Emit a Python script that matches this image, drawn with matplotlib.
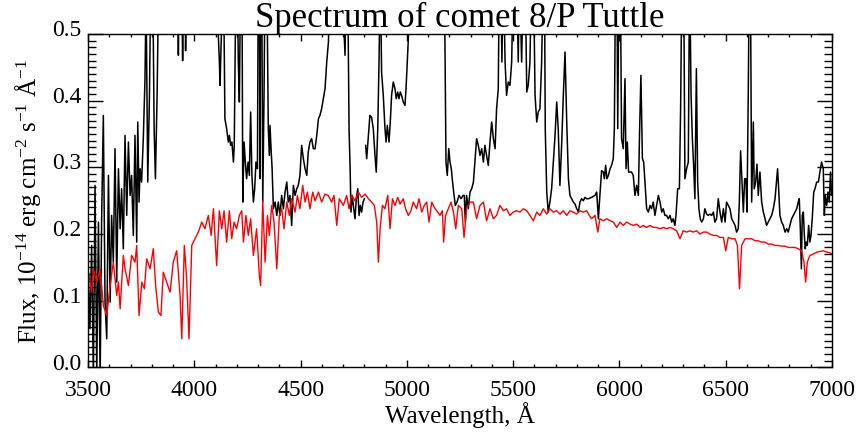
import numpy as np
import matplotlib
matplotlib.use("Agg")
import matplotlib.pyplot as plt
from matplotlib.ticker import MultipleLocator, FormatStrFormatter
from matplotlib.transforms import ScaledTranslation

plt.rcParams['font.family'] = ['Liberation Serif', 'DejaVu Serif']
plt.rcParams['mathtext.fontset'] = 'custom'
plt.rcParams['mathtext.rm'] = 'Liberation Serif'
plt.rcParams['mathtext.default'] = 'regular'

# reference (solar-like) spectrum, red
red_wave = [3502, 3517, 3525, 3541, 3557, 3572, 3588, 3604, 3619, 3635, 3643, 3651, 3666, 3674,
            3690, 3705, 3721, 3729, 3740, 3753, 3765, 3776, 3792, 3807, 3818, 3831, 3843, 3854,
            3870, 3886, 3901, 3917, 3933, 3941, 3953, 3964, 3975, 3988, 4003, 4019, 4035, 4050,
            4066, 4079, 4090, 4105, 4118, 4129, 4140, 4152, 4165, 4176, 4187, 4199, 4212, 4223,
            4231, 4243, 4254, 4265, 4278, 4293, 4306, 4312, 4322, 4333, 4344, 4353, 4364, 4375,
            4388, 4400, 4411, 4422, 4435, 4447, 4458, 4474, 4485, 4497, 4510, 4521, 4532, 4544,
            4557, 4568, 4584, 4599, 4615, 4630, 4646, 4657, 4670, 4682, 4701, 4717, 4728, 4740,
            4756, 4772, 4787, 4803, 4819, 4834, 4847, 4858, 4866, 4874, 4885, 4897, 4910, 4921,
            4932, 4944, 4957, 4968, 4983, 4994, 5007, 5019, 5030, 5046, 5057, 5070, 5082, 5093,
            5104, 5117, 5129, 5140, 5156, 5167, 5173, 5182, 5195, 5208, 5219, 5230, 5242, 5258,
            5269, 5281, 5297, 5313, 5328, 5344, 5360, 5375, 5391, 5407, 5422, 5438, 5454, 5469,
            5485, 5501, 5516, 5532, 5548, 5564, 5579, 5595, 5611, 5626, 5642, 5658, 5673, 5689,
            5705, 5720, 5736, 5752, 5767, 5783, 5799, 5814, 5830, 5846, 5858, 5869, 5885, 5898,
            5908, 5924, 5940, 5956, 5971, 5987, 6003, 6018, 6034, 6050, 6065, 6081, 6097, 6112,
            6128, 6144, 6159, 6175, 6191, 6206, 6222, 6238, 6253, 6269, 6285, 6300, 6316, 6332,
            6347, 6363, 6379, 6395, 6410, 6426, 6442, 6457, 6473, 6489, 6500, 6512, 6528, 6544,
            6555, 6565, 6575, 6591, 6606, 6622, 6638, 6653, 6669, 6685, 6700, 6716, 6732, 6747,
            6763, 6779, 6794, 6810, 6826, 6841, 6857, 6868, 6876, 6884, 6896, 6912, 6928, 6943,
            6959, 6975, 6990, 7003]
red_flux = [0.143, 0.113, 0.148, 0.128, 0.148, 0.093, 0.078, 0.123, 0.158, 0.108, 0.128, 0.088, 0.168, 0.148,
            0.123, 0.168, 0.158, 0.183, 0.078, 0.128, 0.118, 0.163, 0.148, 0.178, 0.123, 0.083, 0.078, 0.143,
            0.128, 0.113, 0.158, 0.175, 0.108, 0.043, 0.183, 0.133, 0.043, 0.183, 0.193, 0.203, 0.218, 0.208,
            0.228, 0.198, 0.238, 0.153, 0.235, 0.208, 0.235, 0.188, 0.235, 0.193, 0.218, 0.208, 0.228, 0.235,
            0.188, 0.228, 0.198, 0.223, 0.168, 0.208, 0.138, 0.123, 0.250, 0.158, 0.228, 0.198, 0.243, 0.218,
            0.148, 0.228, 0.238, 0.208, 0.248, 0.228, 0.253, 0.233, 0.258, 0.238, 0.273, 0.248, 0.263, 0.238,
            0.263, 0.250, 0.263, 0.248, 0.260, 0.258, 0.248, 0.258, 0.213, 0.253, 0.243, 0.258, 0.238, 0.258,
            0.250, 0.263, 0.255, 0.260, 0.253, 0.248, 0.243, 0.218, 0.158, 0.208, 0.243, 0.238, 0.258, 0.208,
            0.253, 0.243, 0.255, 0.245, 0.253, 0.238, 0.228, 0.235, 0.248, 0.238, 0.253, 0.233, 0.243, 0.248,
            0.218, 0.248, 0.240, 0.235, 0.228, 0.235, 0.188, 0.228, 0.238, 0.248, 0.233, 0.208, 0.243, 0.238,
            0.195, 0.238, 0.248, 0.248, 0.223, 0.243, 0.248, 0.220, 0.238, 0.223, 0.228, 0.243, 0.235, 0.238,
            0.228, 0.233, 0.235, 0.233, 0.238, 0.235, 0.228, 0.220, 0.233, 0.228, 0.238, 0.230, 0.238, 0.233,
            0.235, 0.230, 0.235, 0.228, 0.235, 0.233, 0.230, 0.235, 0.233, 0.235, 0.228, 0.223, 0.228, 0.203,
            0.223, 0.220, 0.223, 0.220, 0.218, 0.210, 0.218, 0.213, 0.218, 0.215, 0.213, 0.215, 0.210, 0.213,
            0.210, 0.213, 0.210, 0.210, 0.208, 0.210, 0.208, 0.210, 0.208, 0.205, 0.193, 0.205, 0.203, 0.205,
            0.203, 0.205, 0.200, 0.203, 0.203, 0.200, 0.198, 0.198, 0.195, 0.195, 0.175, 0.195, 0.193, 0.193,
            0.183, 0.118, 0.183, 0.193, 0.193, 0.193, 0.190, 0.190, 0.188, 0.188, 0.185, 0.185, 0.183, 0.183,
            0.182, 0.182, 0.180, 0.180, 0.180, 0.178, 0.175, 0.158, 0.128, 0.158, 0.168, 0.170, 0.173, 0.174,
            0.175, 0.173, 0.172, 0.170]

# comet spectrum, black (values above 0.5 run off the top of the plot)
comet_wave = [3502, 3509, 3517, 3525, 3533, 3541, 3549, 3557, 3564, 3572, 3580, 3588, 3596, 3604,
              3611, 3619, 3627, 3635, 3643, 3651, 3658, 3666, 3674, 3682, 3690, 3698, 3705, 3713,
              3721, 3729, 3734, 3740, 3745, 3752, 3760, 3768, 3773, 3781, 3789, 3796, 3804, 3811,
              3817, 3825, 3833, 3860, 3900, 3920, 3925, 3930, 3940, 3945, 3950, 3955, 3959, 3965,
              4000, 4050, 4100, 4110, 4118, 4121, 4129, 4137, 4144, 4152, 4160, 4165, 4171, 4177,
              4184, 4188, 4196, 4202, 4207, 4212, 4218, 4224, 4228, 4234, 4240, 4246, 4253, 4259,
              4265, 4271, 4278, 4284, 4290, 4297, 4301, 4306, 4309, 4312, 4317, 4322, 4328, 4333,
              4341, 4348, 4353, 4356, 4361, 4366, 4372, 4380, 4388, 4395, 4403, 4411, 4419, 4427,
              4435, 4442, 4450, 4458, 4466, 4474, 4482, 4489, 4497, 4505, 4513, 4521, 4529, 4536,
              4544, 4552, 4560, 4568, 4576, 4584, 4591, 4599, 4607, 4615, 4623, 4631, 4640, 4680,
              4709, 4715, 4721, 4728, 4733, 4737, 4743, 4750, 4756, 4762, 4769, 4775, 4781, 4787,
              4794, 4800, 4803, 4806, 4811, 4819, 4826, 4834, 4842, 4850, 4856, 4863, 4869, 4875,
              4881, 4889, 4897, 4902, 4908, 4916, 4922, 4928, 4936, 4944, 4950, 4957, 4963, 4969,
              4975, 4983, 4991, 4996, 5002, 5007, 5015, 5100, 5170, 5176, 5184, 5190, 5197, 5203,
              5209, 5215, 5222, 5228, 5236, 5245, 5255, 5264, 5270, 5275, 5281, 5289, 5297, 5305,
              5313, 5320, 5328, 5336, 5344, 5352, 5360, 5367, 5375, 5383, 5391, 5399, 5407, 5415,
              5422, 5430, 5435, 5441, 5447, 5454, 5462, 5469, 5477, 5485, 5493, 5501, 5516, 5524,
              5529, 5540, 5548, 5556, 5564, 5571, 5579, 5587, 5595, 5603, 5611, 5618, 5626, 5634,
              5642, 5647, 5651, 5658, 5665, 5673, 5681, 5689, 5697, 5705, 5712, 5720, 5728, 5736,
              5744, 5752, 5760, 5767, 5775, 5783, 5791, 5799, 5807, 5814, 5822, 5830, 5838, 5846,
              5854, 5869, 5885, 5893, 5901, 5908, 5916, 5924, 5929, 5935, 5941, 5948, 5956, 5963,
              5971, 5976, 5982, 5988, 5992, 5998, 6004, 6010, 6018, 6026, 6031, 6037, 6043, 6050,
              6057, 6065, 6073, 6081, 6089, 6095, 6101, 6108, 6114, 6120, 6128, 6136, 6144, 6151,
              6159, 6167, 6175, 6183, 6191, 6199, 6206, 6214, 6222, 6230, 6238, 6246, 6253, 6261,
              6266, 6274, 6282, 6288, 6294, 6302, 6308, 6316, 6324, 6330, 6337, 6343, 6349, 6355,
              6362, 6368, 6374, 6380, 6387, 6395, 6402, 6410, 6418, 6426, 6434, 6442, 6449, 6457,
              6465, 6473, 6481, 6489, 6497, 6504, 6512, 6520, 6528, 6536, 6544, 6551, 6559, 6564,
              6570, 6576, 6583, 6589, 6595, 6600, 6606, 6611, 6616, 6622, 6630, 6634, 6641, 6647,
              6653, 6661, 6669, 6677, 6685, 6692, 6700, 6708, 6716, 6724, 6732, 6740, 6744, 6749,
              6755, 6763, 6771, 6779, 6787, 6794, 6802, 6810, 6818, 6826, 6834, 6841, 6846, 6851,
              6856, 6860, 6865, 6870, 6874, 6879, 6884, 6890, 6896, 6901, 6907, 6914, 6920, 6928,
              6936, 6943, 6951, 6959, 6964, 6968, 6975, 6981, 6987, 6993, 6998, 7003]
comet_flux = [0.133, 0.058, 0.183, -0.013, 0.273, -0.010, 0.218, -0.018, 0.223, 0.378, 0.098, 0.043, 0.288, 0.098,
              0.228, 0.158, 0.328, 0.128, 0.298, 0.208, 0.268, 0.178, 0.348, 0.228, 0.338, 0.258, 0.288, 0.198,
              0.348, 0.188, 0.368, 0.248, 0.298, 0.278, 0.343, 0.433, 0.56, 0.278, 0.408, 0.6, 0.6, 0.358,
              0.283, 0.408, 0.6, 0.7, 0.8, 0.6, 0.468, 0.6, 0.6, 0.46, 0.6, 0.6, 0.475, 0.6,
              0.7, 0.7, 0.6, 0.52, 0.458, 0.423, 0.52, 0.6, 0.373, 0.358, 0.338, 0.348, 0.333, 0.338,
              0.308, 0.333, 0.6, 0.6, 0.458, 0.398, 0.6, 0.6, 0.248, 0.338, 0.308, 0.283, 0.308, 0.288,
              0.383, 0.288, 0.248, 0.268, 0.308, 0.298, 0.6, 0.6, 0.283, 0.6, 0.6, 0.248, 0.408, 0.6,
              0.6, 0.358, 0.318, 0.363, 0.328, 0.298, 0.238, 0.248, 0.228, 0.248, 0.228, 0.258, 0.238, 0.263,
              0.278, 0.248, 0.258, 0.213, 0.273, 0.258, 0.268, 0.273, 0.288, 0.333, 0.313, 0.298, 0.288, 0.323,
              0.338, 0.343, 0.328, 0.328, 0.348, 0.373, 0.378, 0.388, 0.403, 0.418, 0.458, 0.488, 0.6, 0.7,
              0.468, 0.6, 0.6, 0.358, 0.298, 0.233, 0.258, 0.238, 0.223, 0.253, 0.268, 0.228, 0.243, 0.233,
              0.248, 0.253, np.nan, 0.333, 0.313, 0.348, 0.378, 0.375, 0.358, 0.318, 0.293, 0.358, 0.458, 0.6,
              0.443, 0.408, 0.358, 0.338, 0.363, 0.338, 0.368, 0.408, 0.428, 0.418, 0.403, 0.413, 0.403, 0.413,
              0.408, 0.398, 0.393, 0.418, 0.458, 0.493, 0.6, 0.8, 0.6, 0.6, 0.308, 0.288, 0.328, 0.308,
              0.298, 0.278, 0.258, 0.243, 0.248, 0.258, 0.253, 0.258, 0.258, 0.218, 0.258, 0.238, 0.263, 0.268,
              0.278, 0.308, 0.343, 0.333, 0.318, 0.328, 0.308, 0.333, 0.318, 0.303, 0.338, 0.368, 0.343, 0.328,
              0.388, 0.418, 0.6, 0.6, 0.458, 0.6, 0.458, 0.408, 0.428, 0.423, 0.458, 0.6, 0.6, 0.458,
              0.6, 0.458, 0.6, 0.6, 0.413, 0.423, 0.458, 0.6, 0.6, 0.408, 0.368, 0.383, 0.388, 0.458,
              0.6, 0.6, 0.358, 0.263, 0.233, 0.248, 0.268, 0.308, 0.348, 0.398, 0.358, 0.273, 0.333, 0.408,
              0.473, 0.368, 0.283, 0.258, 0.253, 0.248, 0.245, 0.238, 0.233, 0.248, 0.253, 0.250, 0.255, 0.253,
              0.253, 0.255, 0.258, 0.263, 0.223, 0.258, 0.295, 0.293, 0.283, 0.303, 0.283, 0.288, 0.298, 0.303,
              0.313, 0.358, 0.6, 0.6, 0.358, 0.6, 0.6, 0.343, 0.328, 0.433, 0.298, 0.338, 0.293, 0.293,
              0.293, 0.288, 0.258, 0.273, 0.258, 0.358, 0.438, 0.313, 0.308, 0.278, 0.238, 0.233, 0.243, 0.238,
              0.248, 0.228, 0.243, 0.258, 0.248, 0.233, 0.238, 0.228, 0.228, 0.223, 0.228, 0.218, 0.223, 0.213,
              0.228, 0.268, 0.268, 0.393, 0.6, 0.6, 0.283, 0.298, 0.308, 0.6, 0.408, 0.343, 0.303, 0.253,
              0.448, 0.278, 0.238, 0.223, 0.218, 0.223, 0.238, 0.230, 0.228, 0.230, 0.228, 0.233, 0.218, 0.223,
              0.253, 0.233, 0.218, 0.238, 0.218, 0.248, 0.243, 0.238, 0.223, 0.218, 0.213, 0.203, 0.208, 0.248,
              0.325, 0.283, 0.233, 0.283, 0.283, 0.233, 0.408, 0.6, 0.6, 0.248, 0.368, 0.268, 0.278, 0.305,
              0.258, 0.293, 0.248, 0.233, 0.223, 0.213, 0.218, 0.223, 0.228, 0.238, 0.253, 0.283, 0.298, 0.268,
              0.228, 0.218, 0.213, 0.203, 0.208, 0.203, 0.213, 0.223, 0.228, 0.233, 0.238, 0.248, 0.253, 0.208,
              0.148, 0.228, 0.233, 0.198, 0.178, 0.188, 0.183, 0.213, 0.188, 0.198, 0.223, 0.263, 0.268, 0.278,
              0.278, 0.293, 0.308, 0.298, 0.228, 0.258, 0.243, 0.263, 0.248, 0.293, 0.258, 0.268]

fig = plt.figure(figsize=(8.58, 4.39), dpi=100)
ax = fig.add_axes([0.1026, 0.1606, 0.8671, 0.7597])

ax.plot(comet_wave, comet_flux, color='black', lw=1.1)
ax.plot(red_wave, red_flux, color='red', lw=1.0)

ax.set_xlim(3500, 7000)
ax.set_ylim(0.0, 0.5)
ax.xaxis.set_major_locator(MultipleLocator(500))
ax.xaxis.set_minor_locator(MultipleLocator(100))
ax.yaxis.set_major_locator(MultipleLocator(0.1))
ax.yaxis.set_minor_locator(MultipleLocator(0.01))
ax.yaxis.set_major_formatter(FormatStrFormatter('%.1f'))

ax.tick_params(which='both', direction='in', top=True, right=True, labelsize=17, width=1)
ax.tick_params(axis='x', which='major', length=5, pad=8)
ax.tick_params(axis='x', which='minor', length=2.5)
ax.tick_params(axis='y', which='major', length=11, pad=5)
ax.tick_params(axis='y', which='minor', length=5.5)
for s in ax.spines.values():
    s.set_linewidth(1)

# IDL puts the y labels a little above their ticks
shift_up = ScaledTranslation(0, 5 / 72, fig.dpi_scale_trans)
for lab in ax.get_yticklabels():
    lab.set_transform(lab.get_transform() + shift_up)

ax.set_xlabel('Wavelength, Å', fontsize=18, labelpad=1)
ax.set_ylabel(r'Flux, 10$^{-14}$ erg cm$^{-2}$ s$^{-1}$ Å$^{-1}$', fontsize=18, labelpad=6)
ax.set_title('Spectrum of comet 8/P Tuttle', fontsize=25, pad=5)

fig.savefig('out.png', dpi=100)
